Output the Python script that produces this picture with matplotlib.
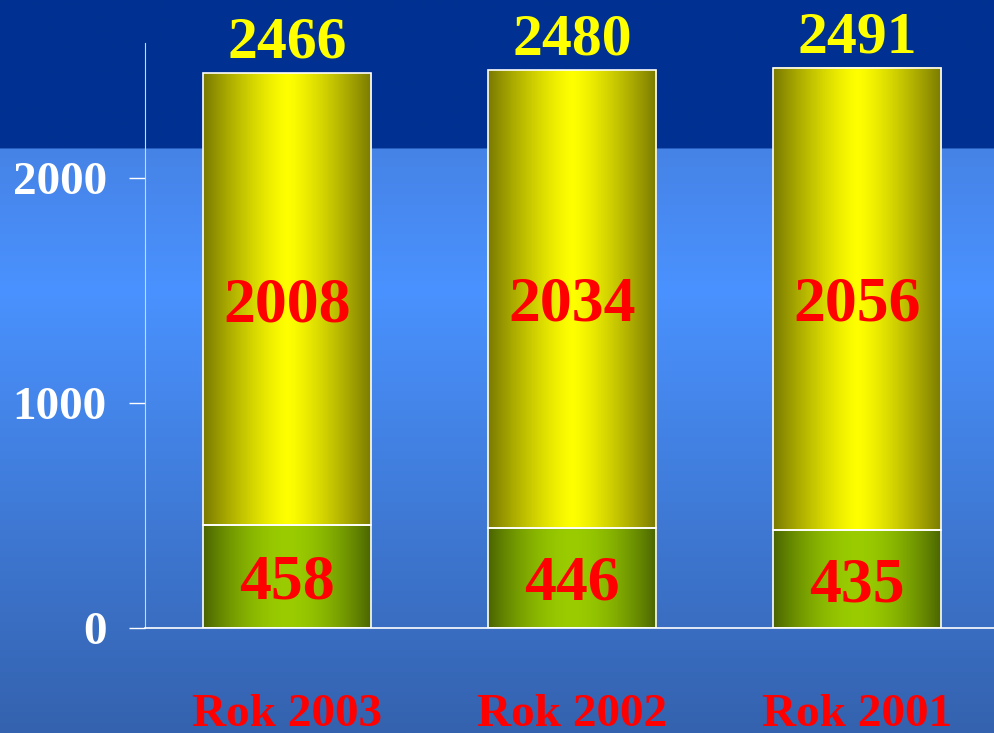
import numpy as np
import matplotlib
matplotlib.use('Agg')
import matplotlib.pyplot as plt
from matplotlib.colors import to_rgb

years = ['Rok 2003', 'Rok 2002', 'Rok 2001']
lower = [458, 446, 435]
upper = [2008, 2034, 2056]
totals = [a + b for a, b in zip(lower, upper)]
yticks = [0, 1000, 2000]

plt.rcParams['font.family'] = ['Liberation Serif', 'DejaVu Serif']

W, H = 994, 733
fig = plt.figure(figsize=(W / 100, H / 100), dpi=100)

# background: dark band on top, blue vertical gradient below
bg = fig.add_axes([0, 0, 1, 1])
bg.set_axis_off()
ys = np.linspace(0, 1, 400)  # 0 = top
stops_y = [0, 148 / H, 290 / H, 1]
stops_c = [to_rgb('#4683e6'), to_rgb('#4683e6'), to_rgb('#4a92ff'), to_rgb('#3462ae')]
img = np.zeros((len(ys), 1, 3))
for k in range(3):
    img[:, 0, k] = np.interp(ys, stops_y, [c[k] for c in stops_c])
img[ys < 148 / H] = to_rgb('#003192')
bg.imshow(img, extent=[0, 1, 0, 1], aspect='auto', interpolation='bilinear')
bg.set_xlim(0, 1)
bg.set_ylim(0, 1)

ax = fig.add_axes([145 / W, 105 / H, (W - 145) / W, 585 / H])
ax.set_facecolor('none')
ax.set_zorder(1)


def gradient_strip(edge, center, power):
    t = np.abs(np.linspace(-1, 1, 200))
    f = np.clip(1 - t ** power, 0, 1)
    e, c = np.array(to_rgb(edge)), np.array(to_rgb(center))
    return (e + (c - e) * f[:, None])[None, :, :]


yellow = gradient_strip('#7a7a00', '#ffff00', 1.3)
green = gradient_strip('#4a6400', '#9acc00', 1.8)

x = np.arange(len(years))
width = 0.59
bars_low = ax.bar(x, lower, width, color='none', edgecolor='white', linewidth=1.2, zorder=3)
bars_up = ax.bar(x, upper, width, bottom=lower, color='none', edgecolor='white', linewidth=1.2, zorder=3)

for bars, strip in [(bars_low, green), (bars_up, yellow)]:
    for b in bars:
        x0, y0 = b.get_x(), b.get_y()
        ax.imshow(strip, extent=[x0, x0 + b.get_width(), y0, y0 + b.get_height()],
                  aspect='auto', interpolation='bilinear', zorder=2)

for i in x:
    ax.text(i, lower[i] / 2, str(lower[i]), ha='center', va='center_baseline',
            color='red', fontsize=46, fontweight='bold', zorder=4)
    ax.text(i, lower[i] + upper[i] / 2, str(upper[i]), ha='center', va='center_baseline',
            color='red', fontsize=46, fontweight='bold', zorder=4)
    ax.annotate(str(totals[i]), (i, totals[i]), xytext=(0, 11), textcoords='offset points',
                ha='center', va='baseline', color='#ffff00', fontsize=43, fontweight='bold')
    ax.text(i, -0.168, years[i], transform=ax.get_xaxis_transform(), ha='center',
            va='baseline', color='red', fontsize=34, fontweight='bold', clip_on=False)

ax.set_xlim(-0.5, 2.48)
ax.set_ylim(0, 2600)
ax.set_xticks([])
ax.set_yticks(yticks)
ax.set_yticklabels([str(v) for v in yticks])
ax.tick_params(axis='y', length=11.5, width=1, color='white', pad=16,
               labelsize=34, labelcolor='white')
for lab in ax.get_yticklabels():
    lab.set_fontweight('bold')
ax.spines['top'].set_visible(False)
ax.spines['right'].set_visible(False)
ax.spines['left'].set_color('#c8d8f8')
ax.spines['bottom'].set_color('white')
ax.spines['bottom'].set_linewidth(1.2)

fig.savefig('out.png', dpi=100)
